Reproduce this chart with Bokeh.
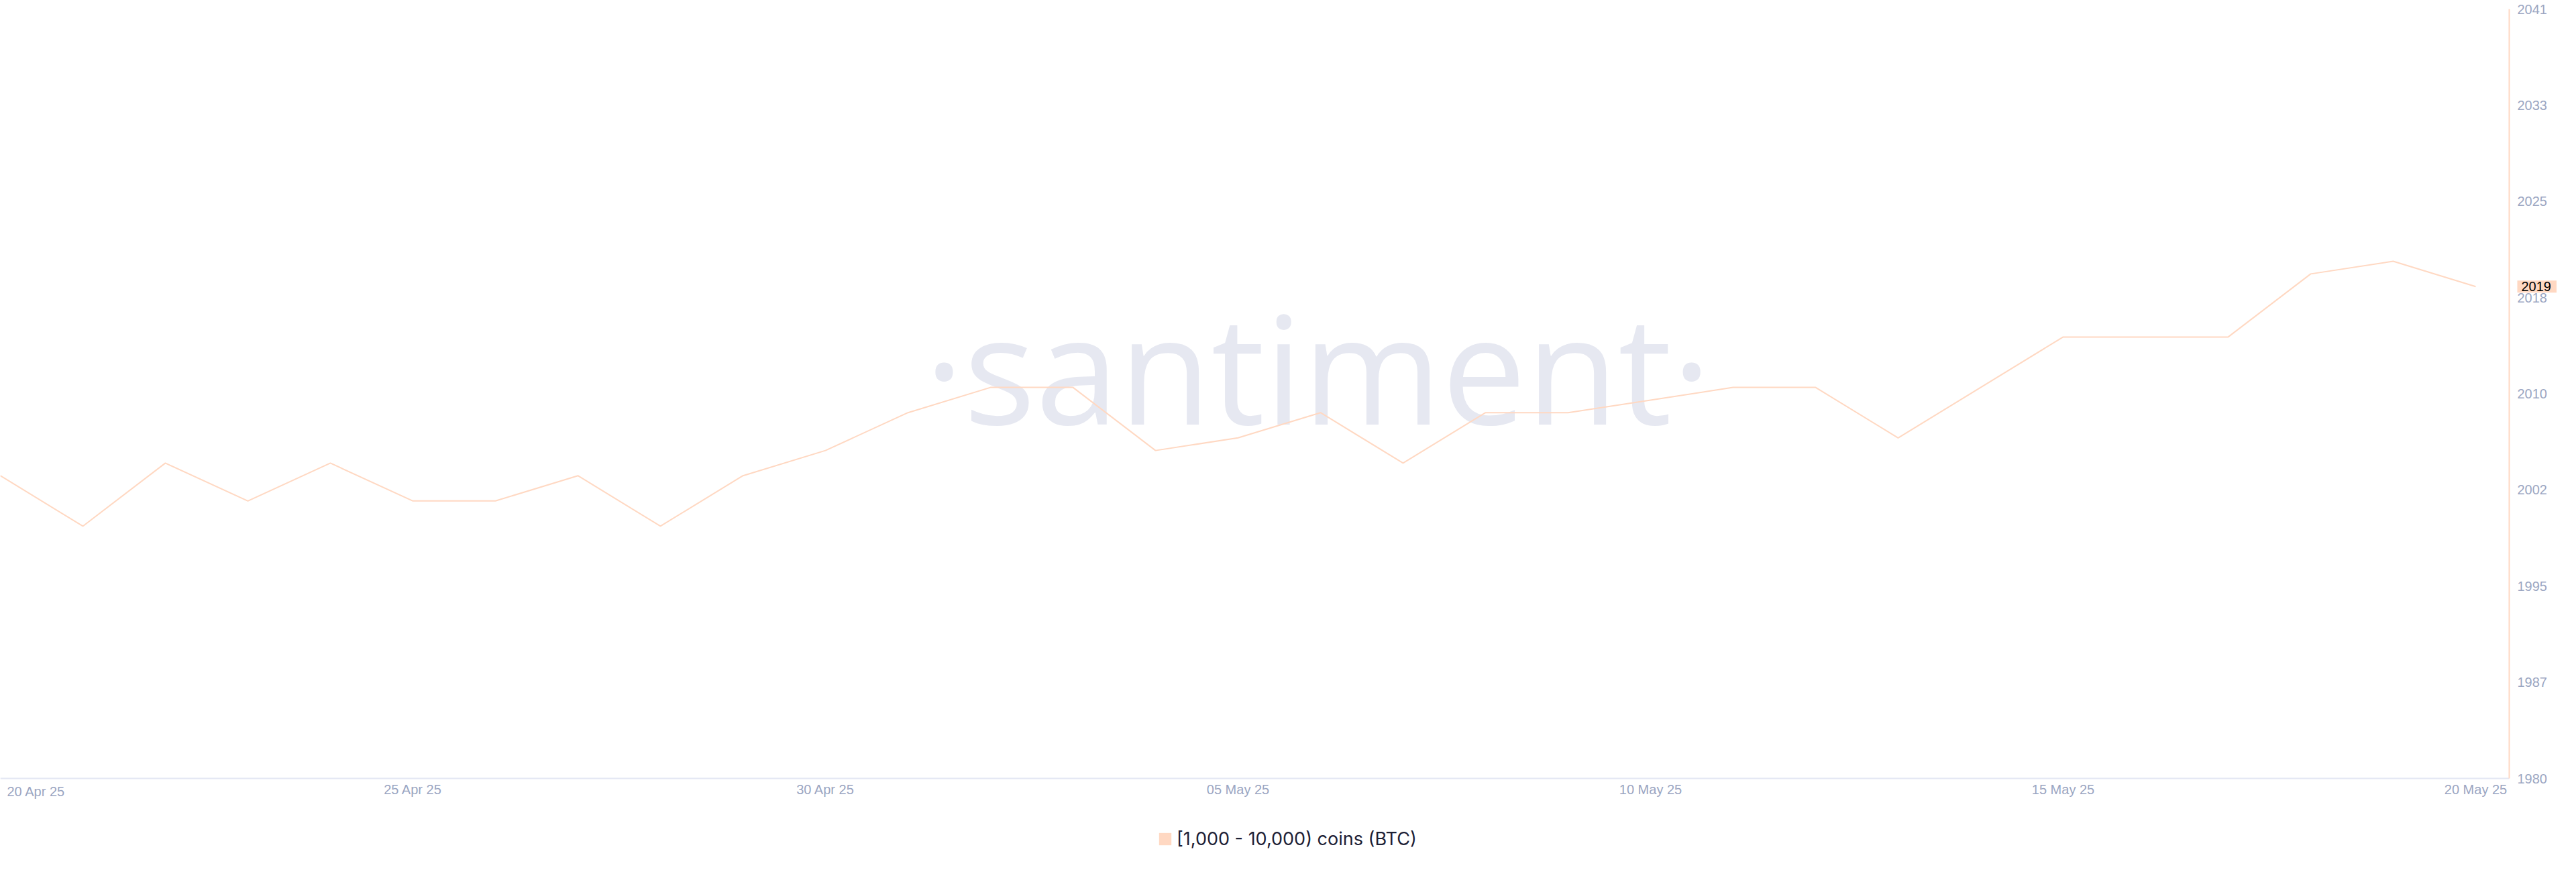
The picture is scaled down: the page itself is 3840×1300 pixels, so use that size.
import pandas as pd
from bokeh.plotting import figure
from bokeh.models import Range1d, FixedTicker, Label, Legend, LegendItem
from bokeh.embed import file_html
from bokeh.resources import INLINE

# ---------------- data ----------------
dates = [
    "2025-04-20", "2025-04-21", "2025-04-22", "2025-04-23", "2025-04-24",
    "2025-04-25", "2025-04-26", "2025-04-27", "2025-04-28", "2025-04-29",
    "2025-04-30", "2025-05-01", "2025-05-02", "2025-05-03", "2025-05-04",
    "2025-05-05", "2025-05-06", "2025-05-07", "2025-05-08", "2025-05-09",
    "2025-05-10", "2025-05-11", "2025-05-12", "2025-05-13", "2025-05-14",
    "2025-05-15", "2025-05-16", "2025-05-17", "2025-05-18", "2025-05-19",
    "2025-05-20",
]
holders = [
    2004, 2000, 2005, 2002, 2005, 2002, 2002, 2004, 2000, 2004,
    2006, 2009, 2011, 2011, 2006, 2007, 2009, 2005, 2009, 2009,
    2010, 2011, 2011, 2007, 2011, 2015, 2015, 2015, 2020, 2021,
    2019,
]
series_name = "[1,000 - 10,000) coins (BTC)"

x_tick_dates = ["2025-04-20", "2025-04-25", "2025-04-30", "2025-05-05",
                "2025-05-10", "2025-05-15", "2025-05-20"]
x_tick_labels = ["20 Apr 25", "25 Apr 25", "30 Apr 25", "05 May 25",
                 "10 May 25", "15 May 25", "20 May 25"]
y_ticks = [1980, 1987.625, 1995.25, 2002.875, 2010.5, 2018.125,
           2025.75, 2033.375, 2041]
y_tick_labels = ["1980", "1987", "1995", "2002", "2010", "2018",
                 "2025", "2033", "2041"]

# ---------------- styles / layout ----------------
LINE = "#ffd8c2"
TICK_TXT = "#9ba6c2"
AXIS_X = "#e4e7f3"
WATERMARK = "#e6e8f1"
LEGEND_TXT = "#1c2035"
TICK_FONT = "Liberation Sans"

W, H = 3832, 1292            # figure = frame (axes drawn inside it)
PX_FIRST, PX_LAST, PX_AXIS = 0, 3690, 3740   # x of first/last day and of the y-axis line
PY_BOTTOM, PY_TOP = 1160, 13                  # y of 1980 and 2041

to_ms = lambda d: pd.Timestamp(d).value / 10**6
x = pd.to_datetime(dates)
x_tick_ms = [to_ms(d) for d in x_tick_dates]

ms0, ms1 = to_ms(dates[0]), to_ms(dates[-1])
ms_per_px = (ms1 - ms0) / (PX_LAST - PX_FIRST)
x_start = ms0 - PX_FIRST * ms_per_px
x_end = ms0 + (W - PX_FIRST) * ms_per_px
axis_ms = ms0 + (PX_AXIS - PX_FIRST) * ms_per_px

y0, y1 = y_ticks[0], y_ticks[-1]
u_per_px = (y1 - y0) / (PY_BOTTOM - PY_TOP)
y_start = y0 - (H - PY_BOTTOM) * u_per_px
y_end = y1 + PY_TOP * u_per_px

p = figure(
    x_axis_type="datetime", y_axis_location="right",
    width=W, height=H,
    x_range=Range1d(start=x_start, end=x_end),
    y_range=Range1d(y_start, y_end),
    output_backend="svg", toolbar_location=None,
    min_border_left=0, min_border_top=0, min_border_right=0, min_border_bottom=0,
    background_fill_color="white", border_fill_color="white",
    outline_line_color=None,
)
p.xgrid.visible = False
p.ygrid.visible = False

# watermark
p.add_layout(Label(
    x=1964, y=746, x_units="screen", y_units="screen", text="·santiment·",
    text_align="center", text_baseline="alphabetic",
    text_font="Open Sans", text_font_size="224px",
    text_color=WATERMARK, level="underlay",
))

r = p.line(x, holders, line_color=LINE, line_width=2)
# zero-area swatch at the last point, used only as the legend's square
swatch = p.quad(left=[x[-1]], right=[x[-1]], top=[holders[-1]], bottom=[holders[-1]],
                fill_color=LINE, line_color=None)

# x axis (drawn inside the frame at y = 1980)
xa = p.xaxis[0]
xa.fixed_location = y0
xa.bounds = (ms0, axis_ms)
xa.ticker = FixedTicker(ticks=x_tick_ms[1:])
xa.major_label_overrides = {int(ms): lab for ms, lab in zip(x_tick_ms, x_tick_labels)}
xa.axis_line_color = AXIS_X
xa.axis_line_width = 2
xa.major_tick_line_color = None
xa.minor_tick_line_color = None
xa.major_tick_out = 0
xa.major_tick_in = 0
xa.major_label_standoff = 5
xa.major_label_text_font = TICK_FONT
xa.major_label_text_font_size = "20px"
xa.major_label_text_color = TICK_TXT

p.add_layout(Label(
    x=x_tick_ms[0], y=y0, x_offset=10, y_offset=-8, text=x_tick_labels[0],
    text_align="left", text_baseline="top", text_font=TICK_FONT,
    text_font_size="20px", text_color=TICK_TXT,
))

# y axis (drawn inside the frame at the right)
ya = p.yaxis[0]
ya.fixed_location = axis_ms
ya.bounds = (y0, y1)
ya.ticker = FixedTicker(ticks=y_ticks)
ya.major_label_overrides = {(int(t) if float(t).is_integer() else t): lab
                            for t, lab in zip(y_ticks, y_tick_labels)}
ya.axis_line_color = LINE
ya.axis_line_width = 2
ya.major_tick_line_color = None
ya.minor_tick_line_color = None
ya.major_tick_out = 0
ya.major_tick_in = 0
ya.major_label_standoff = 12
ya.major_label_text_font = TICK_FONT
ya.major_label_text_font_size = "20px"
ya.major_label_text_color = TICK_TXT

# last value badge
p.add_layout(Label(
    x=axis_ms, y=holders[-1], x_offset=12, text=str(holders[-1]),
    text_align="left", text_baseline="middle", text_font=TICK_FONT,
    text_font_size="20px", text_color="#000000",
    background_fill_color=LINE, padding=dict(left=6, right=8, top=2, bottom=2),
))

legend = Legend(
    items=[LegendItem(label=series_name, renderers=[swatch])],
    location=(1725, 25), orientation="horizontal",
    border_line_color=None, background_fill_alpha=0, padding=0, margin=0,
    glyph_width=23, glyph_height=23, label_standoff=6,
    label_text_font="Inter", label_text_font_size="27px",
    label_text_color=LEGEND_TXT,
)
p.add_layout(legend)

open("out.html", "w").write(file_html(p, INLINE))
